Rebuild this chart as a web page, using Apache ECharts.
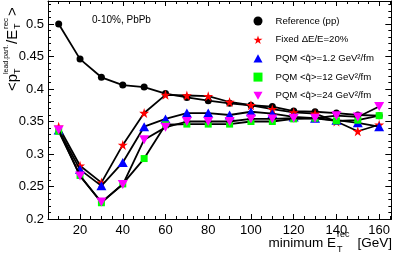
<!DOCTYPE html>
<html>
<head>
<meta charset="utf-8">
<script src="https://cdn.jsdelivr.net/npm/echarts@6/dist/echarts.min.js"></script>
<style>
html,body{margin:0;padding:0;background:#fff;}
#c{width:393px;height:256px;}
</style>
</head>
<body>
<div id="c"></div>
<script>
// ---- data ----
const xValues = [10, 20, 30, 40, 50, 60, 70, 80, 90, 100, 110, 120, 130, 140, 150, 160];
const refPP   = [0.500, 0.446, 0.418, 0.406, 0.403, 0.393, 0.387, 0.382, 0.378, 0.375, 0.373, 0.366, 0.365, 0.363, 0.360, 0.359];
const fixed20 = [0.342, 0.282, 0.256, 0.314, 0.363, 0.391, 0.390, 0.389, 0.380, 0.375, 0.369, 0.364, 0.362, 0.350, 0.335, 0.345];
const pqm1p2  = [0.337, 0.276, 0.251, 0.287, 0.342, 0.354, 0.363, 0.363, 0.360, 0.365, 0.362, 0.357, 0.355, 0.352, 0.348, 0.342];
const pqm12   = [0.335, 0.267, 0.225, 0.254, 0.293, 0.345, 0.346, 0.346, 0.346, 0.350, 0.350, 0.354, 0.355, 0.351, 0.352, 0.359];
const pqm24   = [0.337, 0.266, 0.226, 0.253, 0.322, 0.341, 0.350, 0.350, 0.350, 0.354, 0.354, 0.355, 0.355, 0.359, 0.357, 0.373];
const seriesNames = [
  'Reference (pp)',
  'Fixed \u0394E/E=20%',
  'PQM <q\u0302>=1.2 GeV\u00b2/fm',
  'PQM <q\u0302>=12 GeV\u00b2/fm',
  'PQM <q\u0302>=24 GeV\u00b2/fm'
];
const xTickLabels = [20, 40, 60, 80, 100, 120, 140, 160];
const xMinorTicks = [5,10,15,20,25,30,35,40,45,50,55,60,65,70,75,80,85,90,95,100,105,110,115,120,125,130,135,140,145,150,155,160,165];
const yTickLabels = [0.2, 0.25, 0.3, 0.35, 0.4, 0.45, 0.5];
const yMinorTicks = [0.2,0.21,0.22,0.23,0.24,0.25,0.26,0.27,0.28,0.29,0.3,0.31,0.32,0.33,0.34,0.35,0.36,0.37,0.38,0.39,0.4,0.41,0.42,0.43,0.44,0.45,0.46,0.47,0.48,0.49,0.5,0.51,0.52,0.53];

// ---- styling ----
const FONT = '"Liberation Sans", Arial, Helvetica, sans-serif';
const STAR = 'path://M50,0 L61.2,34.5 L97.6,34.5 L68.2,55.9 L79.4,90.5 L50,69.1 L20.6,90.5 L31.8,55.9 L2.4,34.5 L38.8,34.5 Z';
const UP_TRI = 'path://M5,0 L10,9 L0,9 Z';
const DOWN_TRI = 'path://M0,0 L10,0 L5,9 Z';
const symbols = ['circle', STAR, UP_TRI, 'rect', DOWN_TRI];
const sizes = [7, 10, [10, 9], 7, [10, 9]];
const colors = ['#000000', '#ff0000', '#0000ff', '#00ff00', '#ff00ff'];
const allData = [refPP, fixed20, pqm1p2, pqm12, pqm24];

const X_MIN = 5, X_MAX = 165.7, Y_MIN = 0.2, Y_MAX = 0.5354;

function xAxisDef(pos, ticks, len, showLine, showLabel) {
  return {
    type: 'value', position: pos, min: X_MIN, max: X_MAX,
    axisLine: {show: showLine, onZero: false, lineStyle: {color: '#000', width: 1}},
    axisTick: {show: true, inside: true, length: len, customValues: ticks, lineStyle: {color: '#000', width: 1}},
    axisLabel: {show: showLabel, customValues: xTickLabels, color: '#000', fontSize: 13, fontFamily: FONT, margin: 5},
    splitLine: {show: false}
  };
}
function yAxisDef(pos, ticks, len, showLine, showLabel) {
  return {
    type: 'value', position: pos, min: Y_MIN, max: Y_MAX,
    axisLine: {show: showLine, onZero: false, lineStyle: {color: '#000', width: 1}},
    axisTick: {show: true, inside: true, length: len, customValues: ticks, lineStyle: {color: '#000', width: 1}},
    axisLabel: {show: showLabel, customValues: yTickLabels, color: '#000', fontSize: 13, fontFamily: FONT, margin: 4,
      formatter: v => String(Number(v.toFixed(2)))},
    splitLine: {show: false}
  };
}

const series = allData.map((d, i) => ({
  name: seriesNames[i],
  type: 'line',
  xAxisIndex: 0, yAxisIndex: 0,
  data: xValues.map((x, j) => [x, d[j]]),
  symbol: symbols[i],
  symbolSize: sizes[i],
  showAllSymbol: true,
  lineStyle: {color: '#000', width: 1.8},
  itemStyle: {color: colors[i], borderWidth: 0},
  z: 2 + i
}));

// y-axis title pieces (local horizontal layout, group rotated)
const yTitle = {
  type: 'group', x: 13, y: 91, rotation: Math.PI / 2,
  children: [
    {type: 'text', x: 0, y: 0, style: {text: '<p', font: '15px ' + FONT, fill: '#000', verticalAlign: 'middle', align: 'left'}},
    {type: 'text', x: 17, y: 5, style: {text: 'T', font: '9px ' + FONT, fill: '#000', verticalAlign: 'middle', align: 'left'}},
    {type: 'text', x: 17, y: -7, style: {text: 'lead.part.', font: '7px ' + FONT, fill: '#000', verticalAlign: 'middle', align: 'left'}},
    {type: 'text', x: 47, y: 0, style: {text: '/E', font: '15px ' + FONT, fill: '#000', verticalAlign: 'middle', align: 'left'}},
    {type: 'text', x: 62, y: 5, style: {text: 'T', font: '9px ' + FONT, fill: '#000', verticalAlign: 'middle', align: 'left'}},
    {type: 'text', x: 62, y: -7, style: {text: 'rec', font: '8px ' + FONT, fill: '#000', verticalAlign: 'middle', align: 'left'}},
    {type: 'text', x: 75, y: 0, style: {text: '>', font: '15px ' + FONT, fill: '#000', verticalAlign: 'middle', align: 'left'}}
  ]
};
const xTitle = {
  type: 'group', x: 0, y: 0,
  children: [
    {type: 'text', x: 336, y: 243, style: {text: 'minimum E', font: '13.5px ' + FONT, fill: '#000', verticalAlign: 'middle', align: 'right'}},
    {type: 'text', x: 337, y: 250, style: {text: 'T', font: '9px ' + FONT, fill: '#000', verticalAlign: 'middle', align: 'left'}},
    {type: 'text', x: 337, y: 235, style: {text: 'rec', font: '9px ' + FONT, fill: '#000', verticalAlign: 'middle', align: 'left'}},
    {type: 'text', x: 392, y: 243, style: {text: '[GeV]', font: '13.5px ' + FONT, fill: '#000', verticalAlign: 'middle', align: 'right'}}
  ]
};
const note = {type: 'text', x: 92, y: 20, style: {text: '0-10%, PbPb', font: '10px ' + FONT, fill: '#000', verticalAlign: 'middle', align: 'left'}};

const option = {
  animation: false,
  backgroundColor: '#fff',
  grid: {left: 48, right: 1, top: 1, bottom: 37, containLabel: false},
  xAxis: [
    xAxisDef('bottom', xTickLabels, 5, true, true),
    xAxisDef('bottom', xMinorTicks, 3, false, false),
    xAxisDef('top', xTickLabels, 5, true, false),
    xAxisDef('top', xMinorTicks, 3, false, false)
  ],
  yAxis: [
    yAxisDef('left', yTickLabels, 6, true, true),
    yAxisDef('left', yMinorTicks, 3, false, false),
    yAxisDef('right', yTickLabels, 6, true, false),
    yAxisDef('right', yMinorTicks, 3, false, false)
  ],
  legend: {
    orient: 'vertical', left: 248.5, top: 11,
    itemWidth: 9, itemHeight: 9, itemGap: 8.7,
    selectedMode: false,
    textStyle: {fontSize: 9.6, fontFamily: FONT, color: '#000', lineHeight: 9, padding: [0, 0, 0, 8]},
    data: seriesNames.map((n, i) => ({name: n, icon: symbols[i]}))
  },
  graphic: [yTitle, xTitle, note],
  series: series
};
const chart = echarts.init(document.getElementById('c'), null, {renderer: 'canvas'});
chart.setOption(option);
</script>
</body>
</html>
